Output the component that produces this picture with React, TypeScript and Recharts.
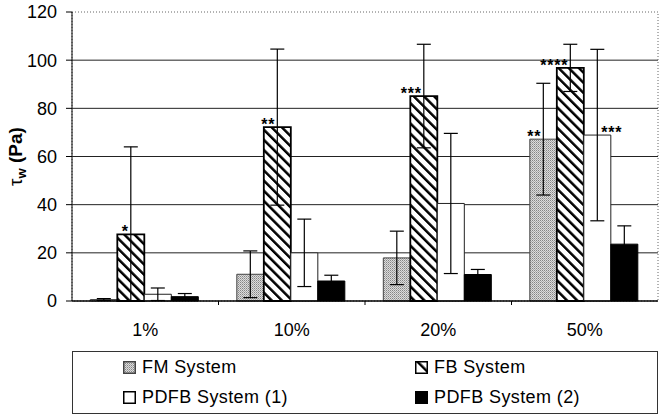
import {
  Bar,
  BarChart,
  CartesianGrid,
  ErrorBar,
  LabelList,
  Legend,
  ReferenceArea,
  XAxis,
  YAxis,
} from "recharts";

const categories = ["1%", "10%", "20%", "50%"];

const fmValues = [0.6, 11.1, 17.9, 67.2];
const fmErrors = [[0.4, 0.4], [9.7, 9.7], [11.1, 11.1], [23.2, 23.2]];
const fmStars = ["", "", "", "**"];

const fbValues = [27.7, 72.2, 85.1, 96.8];
const fbErrors = [[27.7, 36.3], [32.4, 32.4], [21.5, 21.5], [9.8, 9.8]];
const fbStars = ["*", "**", "***", "****"];

const pdfb1Values = [2.8, 20, 40.5, 68.9];
const pdfb1Errors = [[2.6, 2.6], [14, 14], [29.1, 29.1], [35.6, 35.6]];
const pdfb1Stars = ["", "", "", "***"];

const pdfb2Values = [1.8, 8.3, 11, 23.6];
const pdfb2Errors = [[1.3, 1.3], [2.4, 2.4], [2.1, 2.1], [7.6, 7.6]];

const yTicks = [0, 20, 40, 60, 80, 100, 120];
const gridValues = [20, 40, 60, 80, 100];

const data = categories.map((cat, i) => ({
  cat,
  fm: fmValues[i],
  fmErr: fmErrors[i],
  fmStar: fmStars[i],
  fb: fbValues[i],
  fbErr: fbErrors[i],
  fbStar: fbStars[i],
  pdfb1: pdfb1Values[i],
  pdfb1Err: pdfb1Errors[i],
  pdfb1Star: pdfb1Stars[i],
  pdfb2: pdfb2Values[i],
  pdfb2Err: pdfb2Errors[i],
}));

const legendItems = [
  { name: "FM System", fill: "url(#fmDots)", stroke: "#444" },
  { name: "FB System", fill: "url(#fbHatchLegend)", stroke: "#000" },
  { name: "PDFB System (1)", fill: "#fff", stroke: "#000" },
  { name: "PDFB System (2)", fill: "#000", stroke: "#000" },
];

const FONT = "'Liberation Sans', Arial, Helvetica, sans-serif";

function starLabel(side: "left" | "right") {
  return (props: any) => {
    const { x, y, width, value } = props;
    if (!value) return null;
    const cx = Number(x) + Number(width) / 2;
    return (
      <text
        x={side === "left" ? cx - 2 : cx + 4}
        y={Number(y) + 3}
        textAnchor={side === "left" ? "end" : "start"}
        fontSize={16}
        fontWeight="bold"
        letterSpacing={0.8}
        fontFamily={FONT}
        fill="#000"
      >
        {value}
      </text>
    );
  };
}

function CategoryTick(props: any) {
  const { x, y, payload, index } = props;
  const half = payload.offset ?? 0;
  return (
    <g>
      {index > 0 && (
        <line x1={x - half} x2={x - half} y1={y} y2={y + 4} stroke="#000" />
      )}
      <text
        x={x}
        y={y + 35}
        textAnchor="middle"
        fontSize={18}
        fontFamily={FONT}
        fill="#000"
      >
        {payload.value}
      </text>
    </g>
  );
}

function LegendBox() {
  return (
    <div
      style={{
        boxSizing: "border-box",
        width: 586,
        height: 63,
        border: "1.5px solid #333",
        background: "#fff",
        position: "relative",
        fontFamily: FONT,
        fontSize: 18,
        letterSpacing: 0.4,
        color: "#000",
      }}
    >
      {legendItems.map((item, i) => (
        <div
          key={item.name}
          style={{
            position: "absolute",
            left: i % 2 === 0 ? 50 : 342,
            top: i < 2 ? 5 : 35,
            display: "flex",
            alignItems: "center",
            whiteSpace: "nowrap",
            lineHeight: "20px",
          }}
        >
          <svg width={13} height={13} style={{ marginRight: 6 }}>
            <rect
              x={0.75}
              y={0.75}
              width={11.5}
              height={11.5}
              fill={item.fill}
              stroke={item.stroke}
              strokeWidth={1.5}
            />
          </svg>
          {item.name}
        </div>
      ))}
    </div>
  );
}

function AxisTitle(props: any) {
  const { viewBox } = props;
  const cy = viewBox.y + viewBox.height / 2;
  const cx = 22;
  return (
    <text
      transform={`translate(${cx},${cy}) rotate(-90)`}
      textAnchor="middle"
      fontFamily={FONT}
      fontSize={19}
      fontWeight="bold"
      fill="#000"
    >
      <tspan fontWeight="normal">τ</tspan>
      <tspan fontSize={13} dy={4}>w</tspan>
      <tspan dy={-4}> (Pa)</tspan>
    </text>
  );
}

export default function App() {
  return (
    <div style={{ position: "relative", width: 660, height: 420, background: "#fff" }}>
      <style>{"body{margin:0;background:#fff}"}</style>
      <BarChart
        width={660}
        height={420}
        data={data}
        margin={{ top: 12, right: 2, left: 12, bottom: 89 }}
        barCategoryGap="12.5%"
        barGap={0}
      >
        <defs>
          <pattern id="fmDots" width={2} height={2} patternUnits="userSpaceOnUse">
            <rect width={2} height={2} fill="#dcdcdc" />
            <rect width={1} height={1} fill="#858585" />
            <rect x={1} y={1} width={1} height={1} fill="#aaaaaa" />
          </pattern>
          <pattern
            id="fbHatch"
            width={7.2}
            height={7.2}
            patternUnits="userSpaceOnUse"
            patternTransform="rotate(-45)"
          >
            <rect width={7.2} height={7.2} fill="#fff" />
            <rect width={2.5} height={7.2} fill="#000" />
          </pattern>
          <pattern
            id="fbHatchLegend"
            width={20}
            height={20}
            patternUnits="userSpaceOnUse"
            patternTransform="rotate(-45)"
          >
            <rect width={20} height={20} fill="#fff" />
            <rect x={0} width={2.5} height={20} fill="#000" />
          </pattern>
        </defs>
        <CartesianGrid
          vertical={false}
          horizontalValues={gridValues}
          stroke="#222"
          strokeWidth={1}
        />
        <ReferenceArea
          y1={0}
          y2={120}
          fill="none"
          stroke="#666"
          strokeDasharray="1 2"
          ifOverflow="visible"
        />
        <XAxis
          dataKey="cat"
          axisLine={{ stroke: "#000", strokeWidth: 1.5 }}
          tickLine={false}
          tickSize={0}
          tickMargin={0}
          tick={<CategoryTick />}
          interval={0}
          height={30}
        />
        <YAxis
          domain={[0, 120]}
          ticks={yTicks}
          width={60}
          axisLine={{ stroke: "#000", strokeWidth: 1 }}
          tickLine={{ stroke: "#000" }}
          tickSize={6}
          tickMargin={9}
          tick={{ fontSize: 18, fill: "#000", fontFamily: FONT }}
          label={{ content: <AxisTitle /> }}
        />
        <Legend
          layout="horizontal"
          verticalAlign="middle"
          align="center"
          wrapperStyle={{ left: 72, top: 351, width: 586, height: 63 }}
          content={<LegendBox />}
        />
        <Bar dataKey="fm" name="FM System" fill="url(#fmDots)" stroke="#444" strokeWidth={1} isAnimationActive={false}>
          <ErrorBar dataKey="fmErr" width={7} stroke="#000" strokeWidth={1.2} direction="y" isAnimationActive={false} />
          <LabelList dataKey="fmStar" content={starLabel("left")} />
        </Bar>
        <Bar dataKey="fb" name="FB System" fill="url(#fbHatch)" stroke="#000" strokeWidth={1.8} isAnimationActive={false}>
          <ErrorBar dataKey="fbErr" width={7} stroke="#000" strokeWidth={1.2} direction="y" isAnimationActive={false} />
          <LabelList dataKey="fbStar" content={starLabel("left")} />
        </Bar>
        <Bar dataKey="pdfb1" name="PDFB System (1)" fill="#fff" stroke="#222" strokeWidth={1} isAnimationActive={false}>
          <ErrorBar dataKey="pdfb1Err" width={7} stroke="#000" strokeWidth={1.2} direction="y" isAnimationActive={false} />
          <LabelList dataKey="pdfb1Star" content={starLabel("right")} />
        </Bar>
        <Bar dataKey="pdfb2" name="PDFB System (2)" fill="#000" stroke="#000" strokeWidth={1} isAnimationActive={false}>
          <ErrorBar dataKey="pdfb2Err" width={7} stroke="#000" strokeWidth={1.2} direction="y" isAnimationActive={false} />
        </Bar>
      </BarChart>
    </div>
  );
}
